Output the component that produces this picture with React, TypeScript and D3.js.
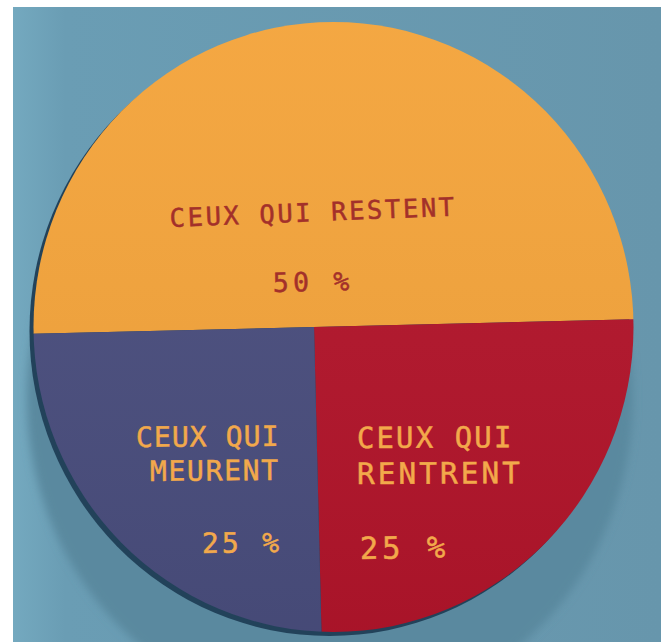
import React from "react";
import * as d3 from "d3";

// ---- data ----
const categories = ["CEUX QUI RESTENT", "CEUX QUI RENTRENT", "CEUX QUI MEURENT"];
const values = [50, 25, 25];
const valueLabels = ["50 %", "25 %", "25 %"];
const sliceColors = ["#f4a43b", "#b3152b", "#4a4e7e"];

const W = 661;
const H = 642;

export default function App() {
  // pie centre (where slice borders meet) and disc outline (photo perspective)
  const cx = 314;
  const cy = 327;
  const disc = { cx: 333.5, cy: 327, rx: 300, ry: 305 };
  const rot = (1.4 * Math.PI) / 180;

  const pie = d3
    .pie<number>()
    .sort(null)
    .startAngle(-Math.PI / 2 - rot)
    .endAngle((3 * Math.PI) / 2 - rot);
  const arcs = pie(values);
  const arc = d3.arc<d3.PieArcDatum<number>>().innerRadius(0).outerRadius(460);

  const font = "'DejaVu Sans Mono', monospace";
  const darkText = "#a3302a";
  const lightText = "#f2a94b";

  const label = (
    txt: string,
    x: number,
    y: number,
    fs: number,
    ls: number,
    fill: string,
    angle: number,
    key: string
  ) => (
    <text
      key={key}
      x={x}
      y={y}
      fill={fill}
      stroke={fill}
      strokeWidth={0.5}
      transform={`rotate(${angle},${x},${y})`}
      style={{ fontFamily: font, fontSize: fs, letterSpacing: ls }}
    >
      {txt}
    </text>
  );

  const [restent, rentrent, meurent] = categories;
  const splitLines = (s: string) => [s.slice(0, 8), s.slice(9)];
  const leftLines = splitLines(meurent);
  const rightLines = splitLines(rentrent);

  return (
    <svg
      width={W}
      height={H}
      style={{ position: "absolute", left: 0, top: 0, display: "block" }}
    >
      <defs>
        <clipPath id="discClip">
          <ellipse cx={disc.cx} cy={disc.cy} rx={disc.rx} ry={disc.ry} />
        </clipPath>
        <filter id="blur" x="-20%" y="-20%" width="140%" height="140%">
          <feGaussianBlur stdDeviation="4" />
        </filter>
        <linearGradient id="shade" x1="0" y1="0" x2="0" y2="1">
          <stop offset="0" stopColor="#fff" stopOpacity="0.04" />
          <stop offset="1" stopColor="#000" stopOpacity="0.06" />
        </linearGradient>
        <linearGradient id="wall" x1="0" y1="0" x2="1" y2="0">
          <stop offset="0" stopColor="#74a9bf" />
          <stop offset="0.08" stopColor="#6a9db4" />
          <stop offset="1" stopColor="#6796ac" />
        </linearGradient>
      </defs>
      <rect x={0} y={0} width={W} height={H} fill="#ffffff" />
      <rect x={13} y={7} width={W - 13} height={H - 7} fill="url(#wall)" />

      {/* cast shadow on the wall */}
      <ellipse cx={330} cy={398} rx={303} ry={318} fill="#5a899f" filter="url(#blur)" />
      {/* disc thickness */}
      <ellipse cx={disc.cx - 4} cy={disc.cy + 4} rx={disc.rx} ry={disc.ry} fill="#22425a" />

      <g clipPath="url(#discClip)">
        {arcs.map((a, i) => (
          <path
            key={categories[i]}
            d={arc(a) || ""}
            transform={`translate(${cx},${cy})`}
            fill={sliceColors[i]}
          />
        ))}
        <rect x={0} y={0} width={W} height={H} fill="url(#shade)" />
      </g>

      {label(restent, 170, 227, 25.5, 2.6, darkText, -2.3, "t1")}
      {label(valueLabels[0], 273, 292, 26.5, 4.2, darkText, -1.2, "t2")}

      {label(leftLines[0], 136, 447, 28, 1.1, lightText, -0.5, "l1")}
      {label(leftLines[1], 150, 481, 28, 1.7, lightText, -0.5, "l2")}
      {label(valueLabels[2], 202, 553, 28, 3.2, lightText, -0.5, "l3")}

      {label(rightLines[0], 357, 448, 29, 2.1, lightText, -0.3, "r1")}
      {label(rightLines[1], 357, 484, 29.5, 3.0, lightText, -0.3, "r2")}
      {label(valueLabels[1], 360, 559, 30.5, 4.0, lightText, -0.8, "r3")}
    </svg>
  );
}
